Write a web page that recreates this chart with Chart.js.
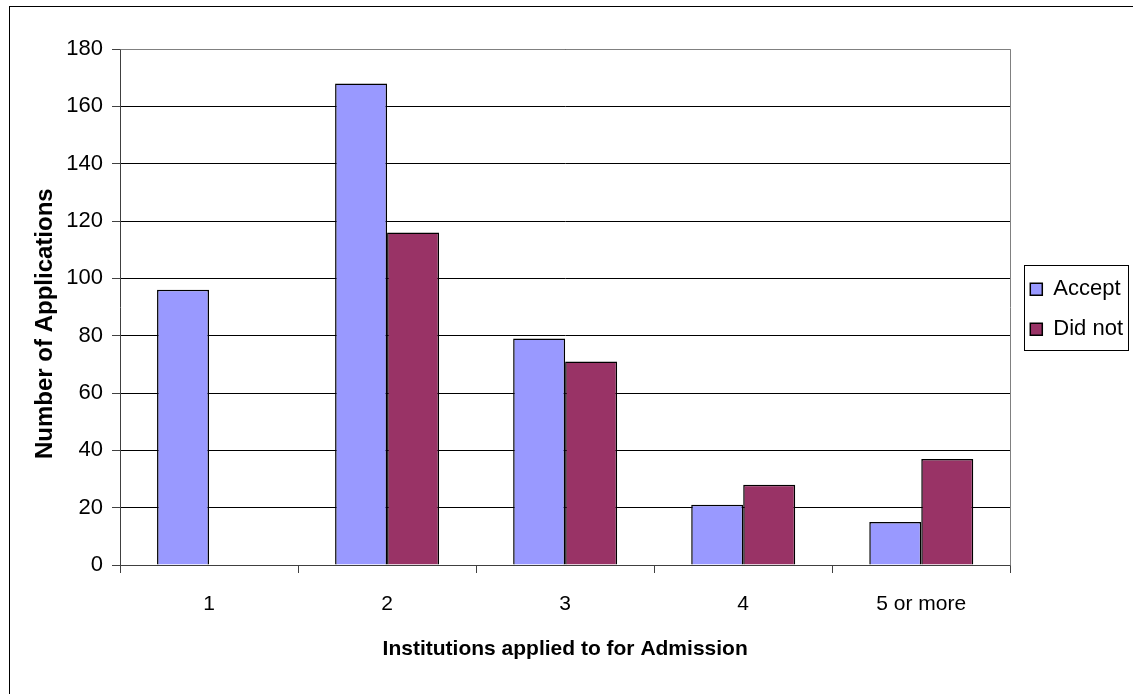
<!DOCTYPE html>
<html>
<head>
<meta charset="utf-8">
<script src="https://cdn.jsdelivr.net/npm/chart.js@4.4.1/dist/chart.umd.min.js"></script>
<style>
  html, body { margin: 0; padding: 0; background: #ffffff; }
  #wrap { width: 1133px; height: 694px; }
</style>
</head>
<body>
<div id="wrap"><canvas id="chart" width="1133" height="694"></canvas></div>
<script>
// Applications by number of institutions applied to
const categories = ['1', '2', '3', '4', '5 or more'];
const acceptValues = [96, 168, 79, 21, 15];
const didNotValues = [0, 116, 71, 28, 37];
const seriesNames = ['Accept', 'Did not'];
const yTicks = [0, 20, 40, 60, 80, 100, 120, 140, 160, 180];

const FONT = "'Liberation Sans', Arial, sans-serif";

// Outer frame, plot-area outline and legend box
const framePlugin = {
  id: 'frames',
  beforeDraw(chart) {
    const ctx = chart.ctx;
    ctx.save();
    ctx.fillStyle = '#ffffff';
    ctx.fillRect(0, 0, chart.width, chart.height);
    ctx.strokeStyle = '#000000';
    ctx.lineWidth = 1;
    ctx.strokeRect(9.5, 6.5, 3000, 3000);
    ctx.restore();
  },
  beforeDatasetsDraw(chart) {
    const {ctx, chartArea: a} = chart;
    ctx.save();
    ctx.strokeStyle = '#808080';
    ctx.lineWidth = 1;
    ctx.beginPath();
    ctx.moveTo(Math.round(a.left) + 0.5, Math.round(a.top) + 0.5);
    ctx.lineTo(Math.round(a.right) + 0.5, Math.round(a.top) + 0.5);
    ctx.lineTo(Math.round(a.right) + 0.5, Math.round(a.bottom) + 0.5);
    ctx.stroke();
    ctx.restore();
  },
  afterDraw(chart) {
    const lg = chart.legend;
    if (!lg || !lg.legendHitBoxes || !lg.legendHitBoxes.length) return;
    const hb = lg.legendHitBoxes;
    const left = Math.min(...hb.map(h => h.left)) - 6;
    const right = Math.max(...hb.map(h => h.left + h.width)) + 5;
    const top = hb[0].top - 13;
    const last = hb[hb.length - 1];
    const bottom = last.top + last.height + 10;
    const ctx = chart.ctx;
    ctx.save();
    ctx.strokeStyle = '#000000';
    ctx.lineWidth = 1;
    ctx.strokeRect(Math.round(left) + 0.5, Math.round(top) + 0.5, Math.round(right - left), Math.round(bottom - top));
    ctx.restore();
  }
};

new Chart(document.getElementById('chart'), {
  type: 'bar',
  data: {
    labels: categories,
    datasets: [
      {
        label: seriesNames[0],
        data: acceptValues,
        backgroundColor: '#9999FF',
        borderColor: '#000000',
        borderWidth: 1.5,
        categoryPercentage: 0.584,
        barPercentage: 1.0
      },
      {
        label: seriesNames[1],
        data: didNotValues,
        backgroundColor: '#993366',
        borderColor: '#000000',
        borderWidth: 1.5,
        categoryPercentage: 0.584,
        barPercentage: 1.0
      }
    ]
  },
  options: {
    responsive: false,
    animation: false,
    devicePixelRatio: 1,
    layout: { padding: { top: 49, right: 0, bottom: 0, left: 0 } },
    plugins: {
      tooltip: { enabled: false },
      legend: {
        display: true,
        position: 'right',
        align: 'start',
        title: {
          display: true,
          text: '',
          font: { family: FONT, size: 1 },
          padding: { top: 210, bottom: 0 }
        },
        labels: {
          boxWidth: 12,
          boxHeight: 12,
          padding: 18,
          color: '#000000',
          font: { family: FONT, size: 22 }
        }
      }
    },
    scales: {
      x: {
        type: 'category',
        offset: true,
        grid: {
          display: true,
          drawOnChartArea: false,
          drawTicks: true,
          tickLength: 8,
          tickColor: '#404040',
          offset: true
        },
        border: { display: true, color: '#404040', width: 1 },
        ticks: {
          color: '#000000',
          padding: 19,
          maxRotation: 0,
          font: { family: FONT, size: 21 }
        },
        title: {
          display: true,
          text: 'Institutions applied to for Admission',
          color: '#000000',
          font: { family: FONT, size: 21, weight: 'bold' },
          padding: { top: 4, bottom: 32 }
        },
        afterFit(scale) { scale.height = 129; }
      },
      y: {
        type: 'linear',
        position: 'left',
        min: 0,
        max: 180,
        afterBuildTicks(scale) { scale.ticks = yTicks.map(v => ({ value: v })); },
        grid: {
          color: '#000000',
          lineWidth: 1,
          drawTicks: true,
          tickLength: 8,
          tickColor: '#404040'
        },
        border: { display: true, color: '#404040', width: 1 },
        ticks: {
          color: '#000000',
          padding: 9,
          font: { family: FONT, size: 22 }
        },
        title: {
          display: true,
          text: 'Number of Applications     ',
          color: '#000000',
          font: { family: FONT, size: 24, weight: 'bold' },
          padding: { top: 31, bottom: 0 }
        },
        afterFit(scale) { scale.width = 120; }
      },
      yGap: {
        type: 'linear',
        position: 'right',
        display: true,
        grid: { display: false, drawTicks: false },
        border: { display: false },
        ticks: { display: false },
        afterFit(scale) { scale.width = 2; }
      }
    }
  },
  plugins: [framePlugin]
});
</script>
</body>
</html>
